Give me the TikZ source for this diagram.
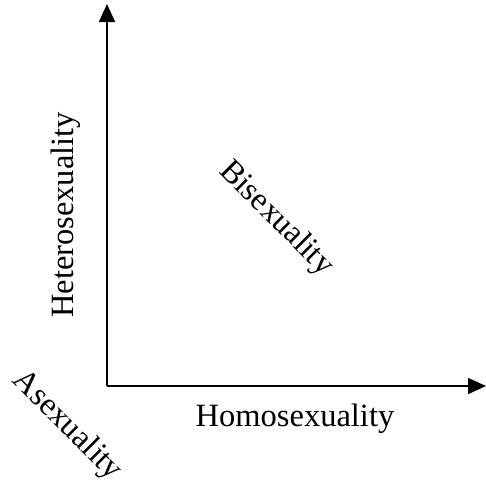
\documentclass[tikz,border=0pt]{standalone}
\usepackage{fontspec}
\setmainfont{Liberation Serif}
\usetikzlibrary{arrows.meta}
\begin{document}
\begin{tikzpicture}[x=1pt,y=-1pt,
  axis/.style={line width=1.7pt,-{Triangle[length=18pt,width=16pt]}},
  lab/.style={font=\fontsize{32.5}{32.5}\selectfont,inner sep=0pt}]
\useasboundingbox (0,0) rectangle (486,479);
\coordinate (o) at (107,386);
\coordinate (ytop) at (107,4);
\coordinate (xend) at (486,386);
\draw[axis] (o) -- (ytop);
\draw[axis] (o) -- (xend);
\node[lab,rotate=90] (het) at (66,215) {Heterosexuality};
\node[lab] (hom) at (295,419) {Homosexuality};
\node[lab,rotate=-45] (bi) at (276,219) {Bisexuality};
\node[lab,rotate=-45] (ase) at (67,426) {Asexuality};
\end{tikzpicture}
\end{document}
